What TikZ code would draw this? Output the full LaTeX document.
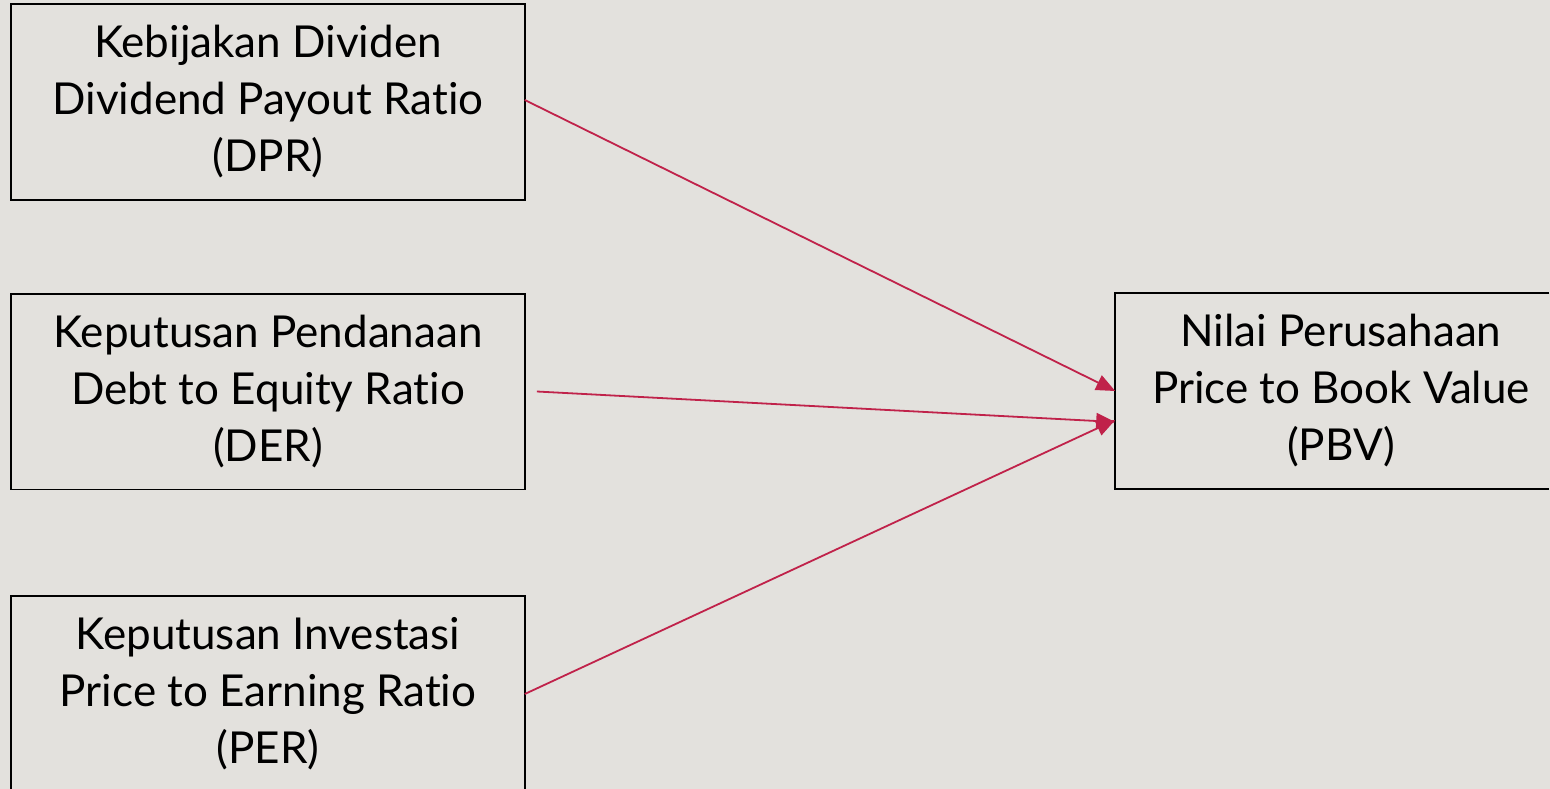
\documentclass[tikz,border=0pt]{standalone}
\usepackage{fontspec}
\setmainfont{Lato}[Ligatures={NoCommon,NoRequired,NoContextual}]
\usetikzlibrary{arrows.meta}
\definecolor{bg}{HTML}{E3E1DD}
\definecolor{arr}{HTML}{C0224A}
\tikzset{
  boxline/.style={draw=black, line width=1.6pt},
  box/.style={boxline, minimum width=512pt, minimum height=194pt,
    align=center, inner sep=0pt, font=\fontsize{44}{57}\selectfont,
    execute at begin node={\rule{0pt}{42pt}}},
  link/.style={draw=arr, line width=1.8pt, -{Triangle[length=19pt,width=16pt]}}
}
\begin{document}
\begin{tikzpicture}[x=1pt,y=-1pt]
\fill[bg] (0,0) rectangle (1550,789);
\useasboundingbox (0,0) rectangle (1550,789);
\coordinate (R) at (1549,0);
\coordinate (B) at (0,789);
\node[box, draw=none] (b1) at (268,102) {Kebijakan Dividen\\Dividend Payout Ratio\\(DPR)};
\draw[boxline] (b1.north west) rectangle (b1.south east);
\node[box, draw=none] (b2) at (268,391.5) {Keputusan Pendanaan\\Debt to Equity Ratio\\(DER)};
\draw[boxline] (b2.north west) rectangle (b2.south east);
\node[box, draw=none] (b3) at (268,694) {Keputusan Investasi\\Price to Earning Ratio\\(PER)};
\draw[boxline] (b3.west |- B) -- (b3.north west) -- (b3.north east) -- (b3.east |- B);
\node[box, draw=none, minimum width=450pt] (b4) at (1341,391) {Nilai Perusahaan\\Price to Book Value\\(PBV)};
\draw[boxline] (b4.north -| R) -- (b4.north west) -- (b4.south west) -- (b4.south -| R);
\draw[link] ([yshift=2pt]b1.east) -- (b4.west);
\draw[link] ([xshift=12pt]b2.east) -- ([yshift=-31pt]b4.west);
\draw[link] (b3.east) -- ([yshift=-29pt]b4.west);
\end{tikzpicture}
\end{document}
